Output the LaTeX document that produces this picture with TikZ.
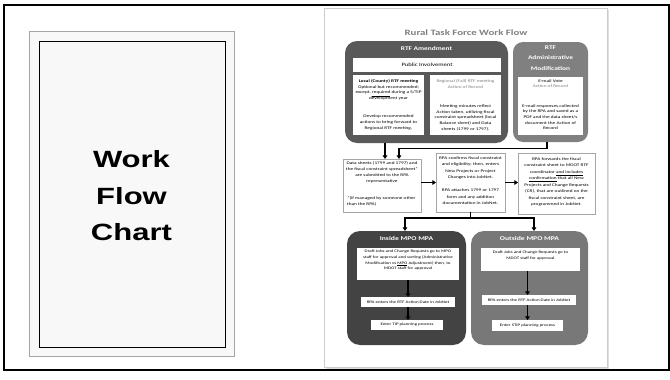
\documentclass[tikz,border=0pt]{standalone}
\usepackage{fontspec}
\setmainfont[FakeStretch=1.32]{Carlito}
\newfontfamily\wfont[FakeStretch=1.32]{Liberation Sans}
\usetikzlibrary{arrows.meta}
\definecolor{amendc}{HTML}{595959}
\definecolor{adminc}{HTML}{808080}
\definecolor{insidec}{HTML}{434343}
\definecolor{outsidec}{HTML}{787878}
\definecolor{softgray}{HTML}{808080}
\definecolor{panelfill}{HTML}{F8F8F8}
\begin{document}
\begin{tikzpicture}[x=1pt,y=-1pt,
  box/.style={rectangle, draw=black!35, line width=0.4pt, fill=white, inner sep=0pt, outer sep=0pt, anchor=north west},
  txt/.style={inner sep=0pt, outer sep=0pt, align=center, anchor=north, font=\fontsize{4}{5.7}\selectfont, text=black},
  region/.style={rectangle, rounded corners=11pt, inner sep=0pt, outer sep=0pt, anchor=north west},
  head/.style={inner sep=0pt, text=white, font=\bfseries\fontsize{5.6}{10.5}\selectfont, align=center},
  arr/.style={-{Triangle[width=4.6pt,length=3.6pt]}, line width=1.3pt, black},
  arrline/.style={line width=1.3pt, black}
  ]
\useasboundingbox (0,0) rectangle (670,380);
\fill[white] (0,0) rectangle (670,380);
\draw[line width=1.8pt] (4,5) rectangle (669,370);

% left panel
\node[rectangle, draw=black!35, fill=panelfill, line width=1pt, minimum width=205pt, minimum height=325pt, anchor=north west, inner sep=0pt, outer sep=0pt] (panelout) at (29,31) {};
\node[rectangle, draw=black, fill=panelfill, line width=0.6pt, minimum width=186pt, minimum height=306pt, anchor=north west, inner sep=0pt, outer sep=0pt] (panelin) at (39,41) {};
\node[font=\wfont\bfseries\fontsize{23.5}{36.5}\selectfont, align=center, inner sep=0pt] (wfc) at (131.5,196) {Work\\Flow\\Chart};

% page
\fill[black!12] (326,10) rectangle (609,369);
\draw[black!20, fill=white, line width=0.8pt] (324,8) rectangle (607,367);

\node[font=\bfseries\fontsize{8.2}{9}\selectfont, text=softgray, inner sep=0pt] (title) at (466,33) {Rural Task Force Work Flow};

% RTF amendment
\node[region, fill=amendc, rounded corners=12pt, minimum width=163pt, minimum height=102pt] (amend) at (345,41) {};
\node[head] (amendh) at (426.5,48.5) {RTF Amendment};
\node[box, draw=none, minimum width=148pt, minimum height=14.5pt, font=\fontsize{5}{6}\selectfont] (pub) at (353,57.8) {Public Involvement};
\node[box, draw=none, minimum width=71pt, minimum height=60pt] (local) at (353,75) {};
\node[box, draw=none, minimum width=71pt, minimum height=60pt] (regional) at (430,75) {};
\node[txt] (localt) at ([yshift=-4.4pt]local.north) {{\bfseries Local (County) RTF meeting}\\
Optional but recommended;\\
except, \underline{required} during a S/TIP\\
development year\\[12.8pt]
Develop recommended\\
actions to bring forward to\\
Regional RTF meeting.};
\node[txt] (regionalt) at ([yshift=-4.4pt]regional.north) {{\color{softgray}Regional (Fall) RTF meeting}\\
{\color{softgray}Action of Record}\\[13.6pt]
Meeting minutes reflect\\
Action taken, utilizing fiscal\\
constraint spreadsheet (local\\
Balance sheet) and Data\\
sheets (1799 or 1797).};

% RTF admin
\node[region, fill=adminc, rounded corners=10pt, minimum width=75pt, minimum height=100pt] (admin) at (513,42) {};
\node[head] (adminh) at (550.5,58) {RTF\\Administrative\\Modification};
\node[box, draw=none, minimum width=65pt, minimum height=58pt] (email) at (518,77) {};
\node[txt] (emailt) at ([yshift=-2.4pt]email.north) {E-mail Vote\\
{\color{softgray}Action of Record}\\[13.6pt]
E-mail responses collected\\
by the RPA and saved as a\\
PDF and the data sheet/s\\
document the Action of\\
Record};

% middle row
\node[box, minimum width=78pt, minimum height=53pt] (data) at (343,159) {};
\node[txt, font=\fontsize{4}{6}\selectfont] (datat) at ([yshift=-2.9pt]data.north) {Data sheets (1799 and 1797) and\\
the fiscal constraint spreadsheet*\\
are submitted to the RPA\\
representative};
\node[txt, font=\fontsize{4}{6}\selectfont, align=left, anchor=north west] (datan) at (347,196.9) {*(if managed by someone other\\
than the RPA)};
\node[box, minimum width=69pt, minimum height=59pt] (mid) at (436,153) {};
\node[txt, font=\fontsize{4}{6.4}\selectfont] (midt) at ([yshift=-3.7pt]mid.north) {RPA confirms fiscal constraint\\
and eligibility; then, enters\\
New Projects or Project\\
Changes into JobNet.\\[6.8pt]
RPA attaches 1799 or 1797\\
form and any addition\\
documentation in JobNet.};
\node[box, minimum width=77pt, minimum height=61pt] (right) at (518,153) {};
\node[txt, font=\fontsize{4}{6.5}\selectfont] (rightt) at ([yshift=-4.7pt]right.north) {RPA forwards the fiscal\\
constraint sheet to MDOT RTF\\
coordinator \underline{and includes}\\
\underline{confirmation} that all New\\
Projects and Change Requests\\
(CR), that are outlined on the\\
fiscal constraint sheet, are\\
programmed in JobNet.};

% bottom regions
\node[region, fill=insidec, rounded corners=13pt, minimum width=119pt, minimum height=114pt] (inside) at (347,231) {};
\node[head, font=\bfseries\fontsize{5.8}{7}\selectfont] (insideh) at (406.5,238.5) {Inside MPO MPA};
\node[box, draw=none, minimum width=102pt, minimum height=32pt] (in1) at (357,248) {};
\node[txt, font=\fontsize{3.75}{5.8}\selectfont] (in1t) at ([yshift=-1.9pt]in1.north) {Draft Jobs and Change Requests go to MPO\\
staff for approval and sorting (Administrative\\
Modification vs \underline{MPO} Adjustment) then, to\\
MDOT staff for approval};
\node[box, draw=none, minimum width=94pt, minimum height=10pt, font=\fontsize{3.75}{5}\selectfont] (in2) at (361,297) {RPA enters the RTF Action Date in JobNet};
\node[box, draw=none, minimum width=72pt, minimum height=10pt, font=\fontsize{3.75}{5}\selectfont] (in3) at (371,320) {Enter TIP planning process};

\node[region, fill=outsidec, rounded corners=13pt, minimum width=117pt, minimum height=114pt] (outside) at (471,231) {};
\node[head, font=\bfseries\fontsize{5.8}{7}\selectfont] (outsideh) at (529.5,238.5) {Outside MPO MPA};
\node[box, draw=none, minimum width=99pt, minimum height=23pt] (out1) at (481,248) {};
\node[txt, font=\fontsize{3.75}{6}\selectfont] (out1t) at ([yshift=-2.7pt]out1.north) {Draft Jobs and Change Requests go to\\
MDOT staff for approval};
\node[box, draw=none, minimum width=94pt, minimum height=10pt, font=\fontsize{3.75}{5}\selectfont] (out2) at (482,295) {RPA enters the RTF Action Date in JobNet};
\node[box, draw=none, minimum width=71pt, minimum height=11pt, font=\fontsize{3.75}{5}\selectfont] (out3) at (492,320) {Enter STIP planning process};

% connectors
\draw[arr] ([xshift=-41.5pt]amend.south) -- ([xshift=3pt]data.north);
\draw[arr] ([xshift=-3.5pt]admin.south) -- ++(0,6.5) -| ([xshift=17pt]data.north);
\draw[arr] (data.east |- mid.west) -- (mid.west);
\draw[arr] (mid.east) -- (mid.east -| right.west);
\draw[arrline] (mid.south) -- ++(0,6) coordinate (br);
\draw[arr] (br) -| ([xshift=-1.5pt]inside.north);
\draw[arr] (br) -| ([xshift=4.5pt]outside.north);
\draw[arr] (in1.south) -- (in1.south |- in2.north);
\draw[arr] (in2.south) -- (in2.south |- in3.north);
\draw[arr] ([xshift=-3pt]out1.south) -- ([xshift=-3pt]out1.south |- out2.north);
\draw[arr] ([xshift=-3pt]out1.south |- out2.south) -- ([xshift=-3pt]out1.south |- out3.north);
\end{tikzpicture}
\end{document}
